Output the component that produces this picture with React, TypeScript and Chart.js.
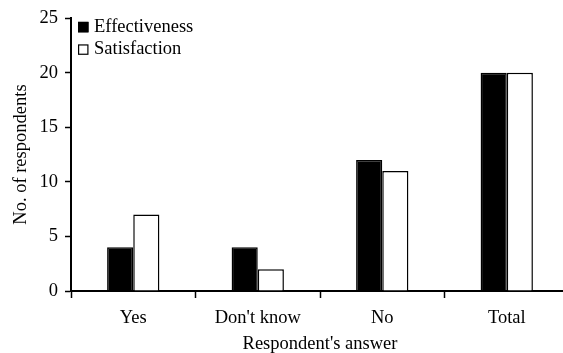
import React, { useEffect, useRef } from "react";
import { Chart, registerables } from "chart.js";

Chart.register(...registerables);

const categories = ["Yes", "Don't know", "No", "Total"];
const effectiveness = [4, 4, 12, 20];
const satisfaction = [7, 2, 11, 20];
const seriesNames = ["Effectiveness", "Satisfaction"];
const yTicks = [0, 5, 10, 15, 20, 25];

const FONT = '"Liberation Serif", "Times New Roman", serif';
const FS = 18.5;

const legendPlugin = {
  id: "customLegend",
  afterDraw(chart: any) {
    const { ctx, chartArea } = chart;
    ctx.save();
    ctx.font = `${FS}px ${FONT}`;
    ctx.textBaseline = "middle";
    ctx.textAlign = "left";
    chart.data.datasets.forEach((ds: any, i: number) => {
      const cy = chartArea.top + 9 + i * 22.5;
      const bx = chartArea.left + 7;
      const size = 10.5;
      ctx.fillStyle = ds.backgroundColor;
      ctx.fillRect(bx, cy - size / 2, size, size);
      ctx.strokeStyle = "#000";
      ctx.lineWidth = 1.2;
      ctx.strokeRect(bx + 0.6, cy - size / 2 + 0.6, size - 1.2, size - 1.2);
      ctx.fillStyle = "#000";
      ctx.fillText(ds.label, bx + 16, cy);
    });
    ctx.restore();
  },
};

export default function App() {
  const ref = useRef<HTMLCanvasElement | null>(null);

  useEffect(() => {
    document.body.style.margin = "0";
    const canvas = ref.current;
    if (!canvas) return;
    const chart = new Chart(canvas, {
      type: "bar",
      data: {
        labels: categories,
        datasets: [
          {
            label: seriesNames[0],
            data: effectiveness,
            backgroundColor: "#000000",
            borderColor: "#000000",
            borderWidth: 1.5,
          },
          {
            label: seriesNames[1],
            data: satisfaction,
            backgroundColor: "#ffffff",
            borderColor: "#000000",
            borderWidth: 1.5,
          },
        ],
      },
      options: {
        responsive: false,
        animation: false,
        devicePixelRatio: 1,
        layout: { padding: { top: 16, left: 0, right: 0, bottom: 0 } },
        datasets: {
          bar: { categoryPercentage: 0.42, barPercentage: 1 },
        },
        plugins: {
          legend: { display: false },
          tooltip: { enabled: false },
        },
        events: [],
        scales: {
          x: {
            offset: true,
            grid: {
              display: true,
              drawOnChartArea: false,
              drawTicks: true,
              tickLength: 7,
              tickColor: "#000",
              tickWidth: 1.5,
              offset: true,
            },
            border: { display: true, color: "#000", width: 2 },
            ticks: {
              color: "#000",
              padding: 9,
              maxRotation: 0,
              autoSkip: false,
              font: { family: FONT, size: FS, lineHeight: 1.2 },
            },
            title: {
              display: true,
              text: "Respondent's answer",
              color: "#000",
              padding: { top: 0, bottom: 0 },
              font: { family: FONT, size: FS, lineHeight: 1 },
            },
            afterFit(scale: any) {
              scale.height = 62;
            },
          },
          y: {
            min: 0,
            max: 25,
            afterBuildTicks(scale: any) {
              scale.ticks = yTicks.map((v) => ({ value: v }));
            },
            grid: {
              display: true,
              drawOnChartArea: false,
              drawTicks: true,
              tickLength: 6,
              tickColor: "#000",
              tickWidth: 1.5,
            },
            border: { display: true, color: "#000", width: 2 },
            ticks: {
              color: "#000",
              padding: 7,
              font: { family: FONT, size: FS, lineHeight: 1.2 },
            },
            title: {
              display: true,
              text: "No. of respondents",
              color: "#000",
              padding: { top: 11.5, bottom: 0 },
              font: { family: FONT, size: FS, lineHeight: 1 },
            },
            afterFit(scale: any) {
              scale.width = 71;
            },
          },
        },
      },
      plugins: [legendPlugin],
    });
    return () => chart.destroy();
  }, []);

  return (
    <div style={{ width: 563, height: 353, overflow: "hidden", position: "relative" }}>
      <canvas ref={ref} width={569} height={353} style={{ width: 569, height: 353, display: "block" }} />
    </div>
  );
}
